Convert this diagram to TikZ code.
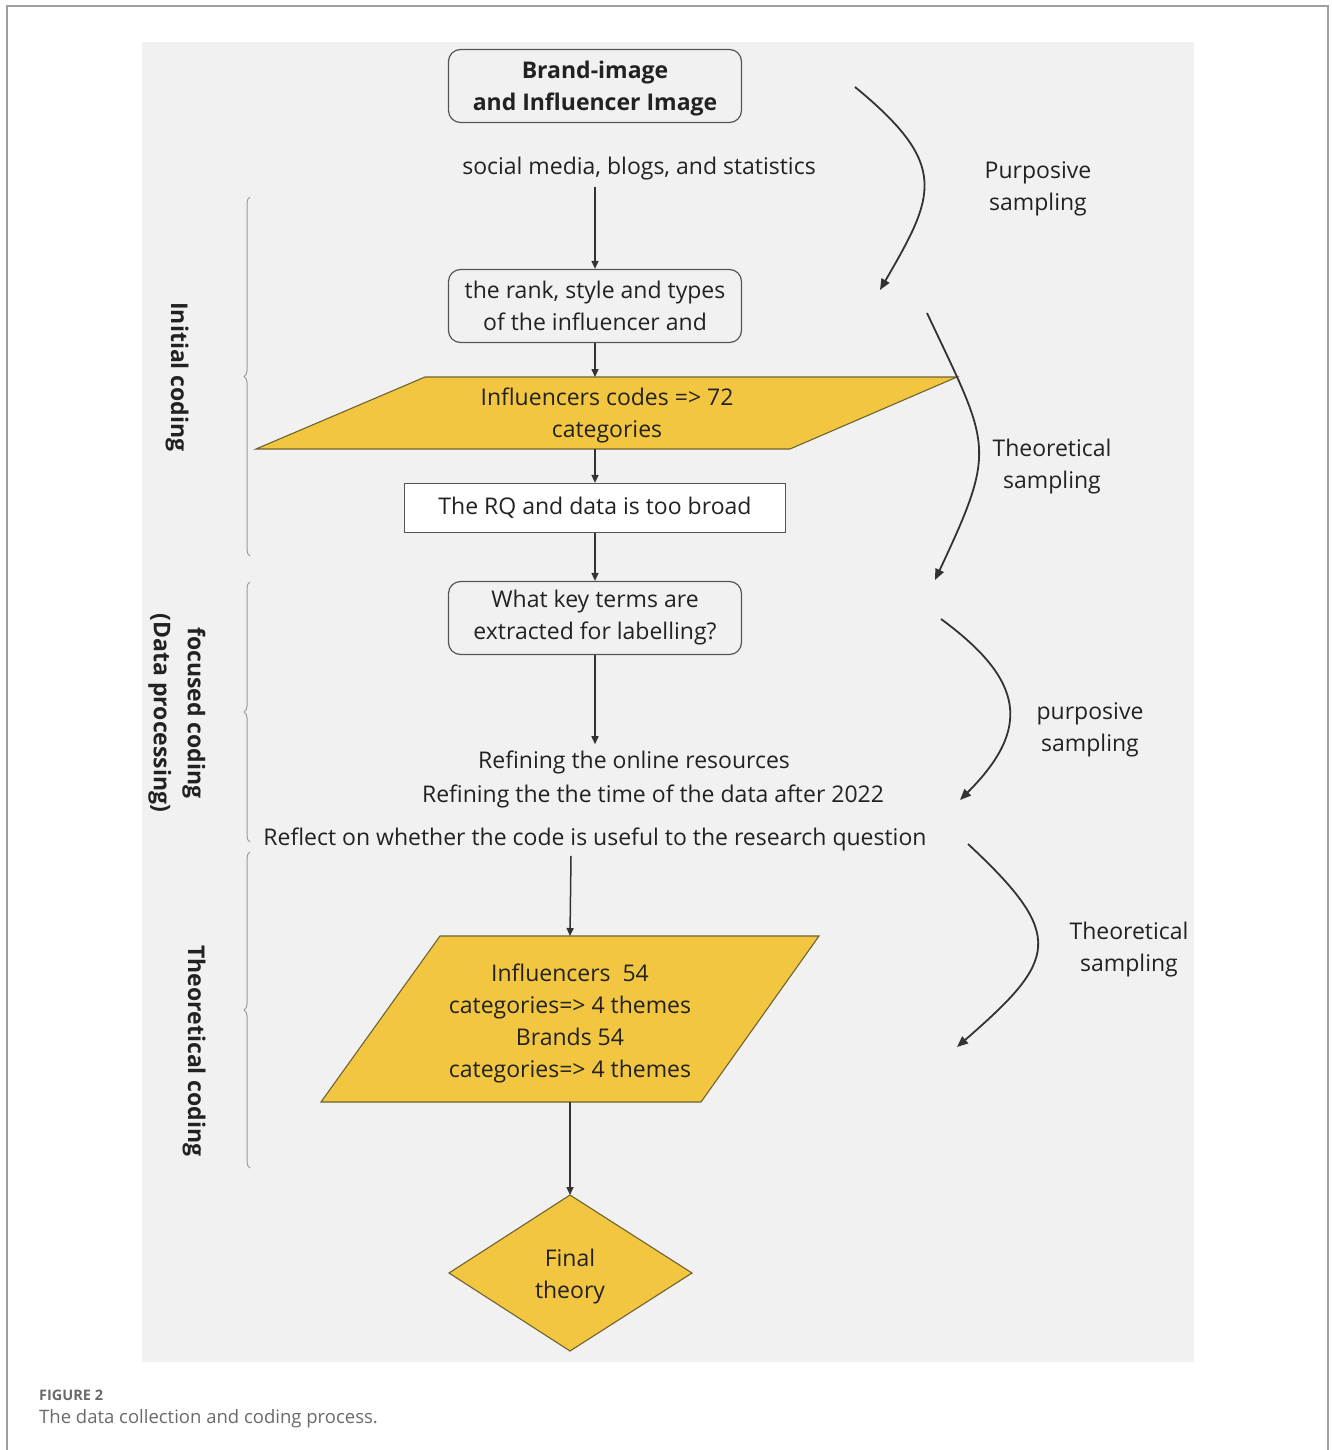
\documentclass[tikz,border=0pt]{standalone}
\usepackage{fontspec}
\setmainfont{Open Sans}
\usetikzlibrary{arrows.meta,decorations.pathreplacing}
\definecolor{bgc}{HTML}{F1F1F1}
\definecolor{ylw}{HTML}{F2C640}
\definecolor{ylwb}{HTML}{6E6330}
\definecolor{ink}{HTML}{222222}
\definecolor{lnc}{HTML}{333333}
\definecolor{boxb}{HTML}{555555}
\definecolor{brc}{HTML}{9A9A9A}
\definecolor{capc}{HTML}{6A6A6A}
\begin{document}
\begin{tikzpicture}[x=1pt,y=-1pt,
  txt/.style={font=\fontsize{23}{32}\selectfont, text=ink, align=center, inner sep=0pt, yshift=-3pt},
  btxt/.style={font=\fontsize{23}{32}\selectfont\bfseries, text=ink, align=center, inner sep=0pt},
  rbox/.style={draw=boxb, line width=1.2pt, rounded corners=12pt, fill=bgc, txt, yshift=3pt},
  sbox/.style={draw=boxb, line width=1.2pt, fill=white, txt, yshift=3pt},
  ybox/.style={draw=ylwb, line width=1.1pt, fill=ylw, line join=miter},
  flow/.style={draw=lnc, line width=1.5pt, -{Triangle[length=8pt,width=7pt]}},
  curv/.style={draw=lnc, line width=1.8pt, -{Triangle[length=11pt,width=9pt]}},
  brc/.style={draw=brc, line width=1pt, decorate, decoration={brace, amplitude=6pt}},
  side/.style={font=\fontsize{23}{34}\selectfont\bfseries, text=ink, align=center, rotate=-90, inner sep=0pt}
]
\useasboundingbox (0,0) rectangle (1332,1450);
% outer frame
\draw[gray!75, line width=1.5pt] (7,1450) -- (7,6) -- (1328,6) -- (1328,1450);
% background
\fill[bgc] (142,42) rectangle (1194,1362);

% boxes
\node[rbox, minimum width=293pt, minimum height=73pt] (b1) at (595,86) {};
\node[btxt] (b1t) at (595,89) {Brand-image\\and Influencer Image};
\node[txt] (src) at (639,166) {social media, blogs, and statistics};
\node[rbox, minimum width=293pt, minimum height=73pt] (b2) at (595,306) {the rank, style and types\\of the influencer and};

% parallelogram 1
\coordinate (p1a) at (425,377); \coordinate (p1b) at (957,377);
\coordinate (p1c) at (790,449); \coordinate (p1d) at (256,449);
\draw[ybox] (p1a) -- (p1b) -- (p1c) -- (p1d) -- cycle;
\coordinate (p1top) at (595,377); \coordinate (p1bot) at (595,449);
\node[txt] (p1) at (607,412) {Influencers codes => 72\\categories};

\node[sbox, fill=white, minimum width=381pt, minimum height=49pt] (b3) at (595,508) {The RQ and data is too broad};
\node[rbox, minimum width=293pt, minimum height=73pt] (b4) at (595,618) {What key terms are\\extracted for labelling?};

\node[txt] (r1) at (634,759) {Refining the online resources};
\node[txt] (r2) at (653,793) {Refining the the time of the data after 2022};
\node[txt] (r3) at (595,836) {Reflect on whether the code is useful to the research question};

% parallelogram 2
\coordinate (p2a) at (440,936); \coordinate (p2b) at (819,936);
\coordinate (p2c) at (701,1102); \coordinate (p2d) at (321,1102);
\draw[ybox] (p2a) -- (p2b) -- (p2c) -- (p2d) -- cycle;
\coordinate (p2top) at (570,936); \coordinate (p2bot) at (570,1102);
\node[txt] (p2) at (570,1020) {Influencers~~54\\categories=> 4 themes\\Brands 54\\categories=> 4 themes};

% diamond
\coordinate (dt) at (570,1195); \coordinate (dr) at (692,1273);
\coordinate (db) at (570,1351); \coordinate (dl) at (449,1273);
\draw[ybox] (dt) -- (dr) -- (db) -- (dl) -- cycle;
\node[txt] (dtext) at (570,1274) {Final\\theory};

% flow arrows
\coordinate (r1top) at ([yshift=6pt]b4.south |- r1.north);
\draw[flow] (b2.north |- src.south) ++(0,6) -- (b2.north);
\draw[flow] (b2.south) -- (p1top);
\draw[flow] (p1bot) -- (b3.north);
\draw[flow] (b3.south) -- (b4.north);
\draw[flow] (b4.south) -- (r1top);
\draw[flow] (p2top |- r3.south) ++(1,5) -- (p2top);
\draw[flow] (p2bot) -- (dt);

% curved arrows
\coordinate (c1s) at (855,87);  \coordinate (c1e) at (880,290);
\coordinate (c2s) at (927,313); \coordinate (c2e) at (935,580);
\coordinate (c3s) at (941,619); \coordinate (c3e) at (960,800);
\coordinate (c4s) at (968,844); \coordinate (c4e) at (957,1047);
\draw[curv] (c1s) .. controls (950,165) and (935,195) .. (c1e);
\draw[curv] (c2s) .. controls (990,447) and (998,446) .. (c2e);
\draw[curv] (c3s) .. controls (1024,680) and (1032,728) .. (c3e);
\draw[curv] (c4s) .. controls (1067,936) and (1057,960) .. (c4e);

\node[txt] (l1) at (1038,186) {Purposive\\sampling};
\node[txt] (l2) at (1052,464) {Theoretical\\sampling};
\node[txt] (l3) at (1090,727) {purposive\\sampling};
\node[txt] (l4) at (1129,947) {Theoretical\\sampling};

% braces
\coordinate (br1a) at (250,556); \coordinate (br1b) at (250,197);
\coordinate (br2a) at (250,842); \coordinate (br2b) at (250,582);
\coordinate (br3a) at (250,1168); \coordinate (br3b) at (250,852);
\draw[brc] (br1a) -- (br1b);
\draw[brc] (br2a) -- (br2b);
\draw[brc] (br3a) -- (br3b);

\node[side] (s1) at (177,377) {Initial coding};
\node[side] (s2) at (177,713) {focused coding\\(Data processing)};
\node[side] (s3) at (194,1051) {Theoretical coding};

% caption
\node[anchor=west, inner sep=0pt, text=capc, font=\fontsize{14.5}{16}\selectfont\bfseries] (cap1) at (39,1395) {FIGURE 2};
\node[anchor=west, inner sep=0pt, text=capc, font=\fontsize{18.5}{20}\selectfont] (cap2) at (39,1419) {The data collection and coding process.};
\end{tikzpicture}
\end{document}
